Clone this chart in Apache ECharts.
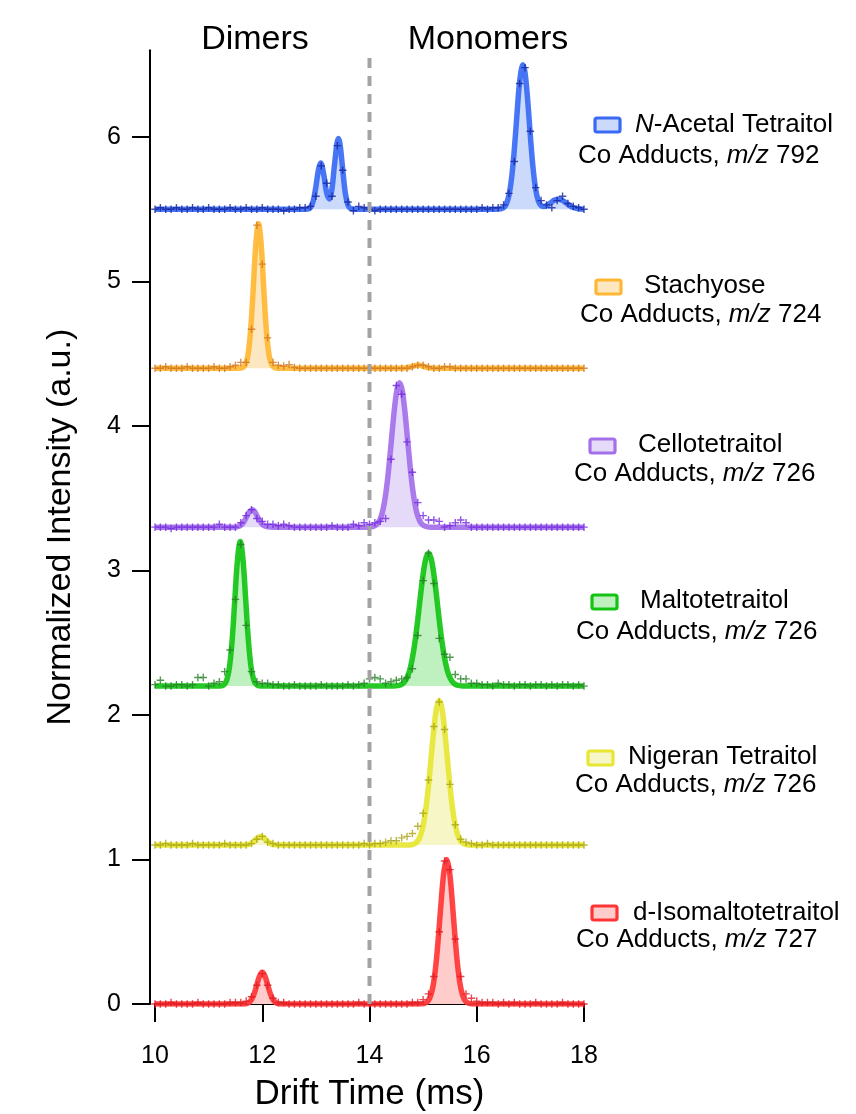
<!DOCTYPE html>
<html><head><meta charset="utf-8">
<script src="https://cdn.jsdelivr.net/npm/echarts@6/dist/echarts.min.js"></script>
<style>html,body{margin:0;padding:0;background:#fff}#c{width:856px;height:1114px}</style>
</head><body><div id="c"></div><script>
// ---------- DATA ----------
const driftTime = [10.0,10.1,10.2,10.3,10.4,10.5,10.6,10.7,10.8,10.9,
  11.0,11.1,11.2,11.3,11.4,11.5,11.6,11.7,11.8,11.9,
  12.0,12.1,12.2,12.3,12.4,12.5,12.6,12.7,12.8,12.9,
  13.0,13.1,13.2,13.3,13.4,13.5,13.6,13.7,13.8,13.9,
  14.0,14.1,14.2,14.3,14.4,14.5,14.6,14.7,14.8,14.9,
  15.0,15.1,15.2,15.3,15.4,15.5,15.6,15.7,15.8,15.9,
  16.0,16.1,16.2,16.3,16.4,16.5,16.6,16.7,16.8,16.9,
  17.0,17.1,17.2,17.3,17.4,17.5,17.6,17.7,17.8,17.9,18.0];

const seriesNames = ['N-Acetal Tetraitol','Stachyose','Cellotetraitol','Maltotetraitol','Nigeran Tetraitol','d-Isomaltotetraitol'];
const legendLabels = ['{i|N}-Acetal Tetraitol','Stachyose','Cellotetraitol','Maltotetraitol','Nigeran Tetraitol','d-Isomaltotetraitol'];
const mzValues = [792, 724, 726, 726, 726, 727];
const baselineOffsets = [5.5, 4.4, 3.3, 2.2, 1.1, 0];
const xTicks = [10, 12, 14, 16, 18];
const yTicks = [0, 1, 2, 3, 4, 5, 6];
const dividerTime = 14;
const groupLabels = ['Dimers', 'Monomers'];

// measured points (relative to each trace's baseline), one per driftTime
const blueMeasured = [0.00,0.01,0.00,0.00,0.01,0.00,0.00,0.01,0.00,0.00,
  0.01,0.00,0.00,0.00,0.01,0.00,0.00,0.01,0.00,0.00,
  0.01,0.00,0.00,0.00,-0.01,0.00,0.00,0.01,0.01,0.02,
  0.09,0.30,0.18,0.09,0.44,0.27,0.05,-0.01,0.02,0.01,
  0.00,-0.01,0.00,0.00,0.00,0.00,0.00,0.00,0.00,0.00,
  0.00,0.00,0.00,0.00,0.00,0.00,0.00,0.00,0.00,0.00,
  0.00,0.01,0.00,0.01,0.01,0.03,0.11,0.33,0.87,0.98,
  0.54,0.15,0.06,0.03,0.01,0.06,0.09,0.04,0.02,0.01,0.00];
const orangeMeasured = [0.00,0.00,0.01,0.00,0.00,0.00,0.01,0.00,0.00,0.00,
  0.00,0.01,0.00,0.00,0.01,0.02,0.04,0.04,0.27,0.99,
  0.72,0.21,0.04,0.02,0.015,0.025,0.005,0.00,0.00,0.00,
  0.00,0.00,0.00,0.00,0.00,0.00,0.00,0.00,0.00,0.00,
  0.00,0.00,0.00,0.00,0.00,0.00,0.00,0.00,0.01,0.02,
  0.02,0.01,0.00,0.00,0.01,0.01,0.00,0.00,0.00,0.00,
  0.00,0.00,0.00,0.00,0.00,0.00,0.00,0.00,0.00,0.00,
  0.00,0.00,0.00,0.00,0.00,0.00,0.00,0.00,0.00,0.00,0.00];
const purpleMeasured = [0.00,0.00,0.00,-0.01,0.00,0.00,0.00,0.00,0.00,0.00,
  0.00,0.00,0.02,0.00,0.00,0.00,0.03,0.08,0.12,0.06,
  0.04,0.02,0.02,0.01,0.02,0.01,0.00,0.00,0.00,0.00,
  0.00,0.00,0.00,0.01,0.00,0.00,0.00,0.02,0.01,0.03,
  0.02,0.03,0.04,0.06,0.47,0.98,0.92,0.59,0.38,0.17,
  0.08,0.05,0.05,0.04,0.00,0.01,0.03,0.05,0.03,0.00,
  0.00,0.00,0.00,0.00,0.00,0.00,0.00,0.00,0.00,0.00,
  0.00,0.00,0.00,0.00,0.00,0.00,0.00,0.00,0.00,0.00,0.00];
const greenMeasured = [0.01,0.04,0.00,0.00,0.01,0.01,0.00,0.01,0.06,0.06,
  0.00,0.02,0.03,0.10,0.25,0.60,0.98,0.42,0.10,0.03,
  0.02,0.02,0.01,0.01,0.00,0.00,0.01,0.00,0.00,0.00,
  0.00,0.01,0.00,0.00,0.00,0.00,0.01,0.00,0.01,0.02,
  0.05,0.06,0.05,0.02,0.03,0.04,0.05,0.06,0.12,0.35,
  0.73,0.92,0.71,0.33,0.22,0.20,0.08,0.05,0.05,0.02,
  0.02,0.01,0.01,0.00,0.02,0.01,0.01,0.00,0.01,0.01,
  0.00,0.01,0.01,0.00,0.01,0.00,0.01,0.01,0.00,0.01,0.00];
const yellowMeasured = [0.00,0.00,0.01,0.00,0.00,0.00,0.00,0.01,0.00,0.00,
  0.00,0.00,0.00,0.01,0.00,0.00,0.00,0.00,0.01,0.04,
  0.06,0.02,0.01,0.00,0.00,0.00,0.00,0.00,0.00,0.00,
  0.00,0.00,0.00,0.00,0.00,0.00,0.00,0.00,0.00,0.01,
  0.00,0.01,0.01,0.02,0.03,0.03,0.05,0.06,0.08,0.13,
  0.22,0.45,0.82,0.99,0.80,0.42,0.14,0.04,0.02,0.01,
  0.00,0.00,0.01,0.00,0.00,0.00,0.00,0.00,0.00,0.00,
  0.00,0.00,0.00,0.00,0.00,0.00,0.00,0.00,0.00,0.00,0.00];
const redMeasured = [0.00,0.00,0.00,0.01,0.00,0.00,0.00,0.00,0.01,0.00,
  0.00,0.00,0.00,0.00,0.01,0.01,0.01,0.02,0.05,0.13,
  0.21,0.13,0.04,0.01,0.01,0.00,0.00,0.00,0.00,0.00,
  0.00,0.00,0.00,0.00,0.00,0.00,0.00,0.00,0.01,0.00,
  0.00,0.00,0.00,0.00,0.00,0.00,0.00,0.00,0.01,0.01,
  0.03,0.07,0.19,0.50,0.99,0.93,0.45,0.19,0.07,0.04,
  0.02,0.01,0.01,0.01,0.00,0.01,0.00,0.01,0.00,0.00,
  0.00,0.01,0.00,0.00,0.00,0.00,0.01,0.00,0.00,0.00,0.00];

// fitted curves, [drift time, intensity relative to baseline]
const blueFit = [[10,0],[12.7,0],[12.85,0.002],[12.9,0.013],[12.95,0.056],[13,0.156],[13.05,0.277],[13.09,0.32],
  [13.15,0.233],[13.2,0.116],[13.25,0.071],[13.3,0.142],[13.35,0.318],[13.42,0.49],[13.45,0.452],[13.5,0.277],
  [13.55,0.109],[13.6,0.027],[13.65,0.004],[13.75,0],[16.35,0],[16.45,0.003],[16.5,0.011],[16.55,0.036],
  [16.6,0.096],[16.65,0.216],[16.7,0.411],[16.75,0.657],[16.8,0.882],[16.86,1.0],[16.9,0.946],[16.95,0.755],
  [17,0.506],[17.05,0.286],[17.1,0.135],[17.15,0.057],[17.2,0.025],[17.25,0.019],[17.3,0.025],[17.35,0.037],
  [17.4,0.051],[17.45,0.063],[17.52,0.07],[17.6,0.061],[17.65,0.048],[17.7,0.034],[17.8,0.012],[17.9,0.003],[18,0]];
const orangeFit = [[10,0],[11.55,0],[11.63,0.004],[11.68,0.021],[11.73,0.085],[11.78,0.249],[11.83,0.539],
  [11.88,0.857],[11.93,1],[11.98,0.857],[12.03,0.539],[12.08,0.249],[12.13,0.085],[12.18,0.021],[12.23,0.004],
  [12.3,0],[14.6,0],[14.7,0.003],[14.8,0.012],[14.85,0.018],[14.91,0.022],[14.97,0.018],[15.05,0.008],
  [15.15,0.001],[15.25,0],[18,0]];
const purpleFit = [[10,0],[11.45,0],[11.55,0.004],[11.6,0.013],[11.65,0.033],[11.7,0.066],[11.75,0.1],[11.81,0.12],
  [11.85,0.111],[11.9,0.08],[11.95,0.045],[12,0.02],[12.05,0.007],[12.1,0.002],[12.2,0],[13.95,0],[14.06,0.004],
  [14.11,0.011],[14.16,0.029],[14.21,0.066],[14.26,0.135],[14.31,0.249],[14.36,0.411],[14.41,0.607],[14.46,0.801],
  [14.51,0.946],[14.56,1],[14.61,0.946],[14.66,0.801],[14.71,0.607],[14.76,0.411],[14.81,0.249],[14.86,0.135],
  [14.91,0.066],[14.96,0.029],[15.01,0.011],[15.06,0.004],[15.15,0],[18,0]];
const greenFit = [[10,0],[11.15,0],[11.24,0.002],[11.29,0.011],[11.34,0.044],[11.39,0.135],[11.44,0.325],[11.49,0.607],
  [11.54,0.882],[11.59,1],[11.64,0.882],[11.69,0.607],[11.74,0.325],[11.79,0.135],[11.84,0.044],[11.89,0.011],
  [11.94,0.002],[12.03,0],[14.45,0],[14.55,0.005],[14.6,0.012],[14.65,0.028],[14.7,0.058],[14.75,0.11],[14.8,0.194],
  [14.85,0.312],[14.9,0.46],[14.95,0.624],[15,0.774],[15.05,0.881],[15.1,0.92],[15.15,0.881],[15.2,0.774],
  [15.25,0.624],[15.3,0.46],[15.35,0.312],[15.4,0.194],[15.45,0.11],[15.5,0.058],[15.55,0.028],[15.6,0.012],
  [15.65,0.005],[15.75,0],[18,0]];
const yellowFit = [[10,0],[11.65,0],[11.75,0.005],[11.8,0.014],[11.85,0.029],[11.9,0.047],[11.97,0.06],[12.02,0.053],
  [12.07,0.036],[12.12,0.02],[12.17,0.008],[12.22,0.003],[12.3,0],[14.7,0],[14.8,0.004],[14.85,0.011],[14.9,0.029],
  [14.95,0.066],[15,0.135],[15.05,0.249],[15.1,0.411],[15.15,0.607],[15.2,0.801],[15.25,0.946],[15.3,1],
  [15.35,0.946],[15.4,0.801],[15.45,0.607],[15.5,0.411],[15.55,0.249],[15.6,0.135],[15.65,0.066],[15.7,0.029],
  [15.75,0.011],[15.8,0.004],[15.9,0],[18,0]];
const redFit = [[10,0],[11.6,0],[11.7,0.002],[11.75,0.01],[11.8,0.03],[11.85,0.072],[11.9,0.134],[11.95,0.194],
  [12,0.22],[12.05,0.194],[12.1,0.134],[12.15,0.072],[12.2,0.03],[12.25,0.01],[12.3,0.002],[12.4,0],[14.9,0],
  [14.99,0.002],[15.04,0.006],[15.09,0.02],[15.14,0.056],[15.19,0.135],[15.24,0.278],[15.29,0.487],[15.34,0.726],
  [15.39,0.923],[15.44,1],[15.49,0.923],[15.54,0.726],[15.59,0.487],[15.64,0.278],[15.69,0.135],[15.74,0.056],
  [15.79,0.02],[15.84,0.006],[15.89,0.002],[15.95,0],[18,0]];

// ---------- STYLE ----------
const F = '"Liberation Sans", Arial, Helvetica, sans-serif';
const lineColors = ['#3a6af4', '#ffb733', '#a470ea', '#14c414', '#e6e633', '#ff3535'];
const fillColors = ['#cbd9fb', '#fde7c0', '#e6daf9', '#bff0bf', '#f6f6c6', '#ffcccc'];
const markColors = ['#16249e', '#cf7620', '#7328e0', '#267f26', '#aaa214', '#e01a24'];
const fits = [blueFit, orangeFit, purpleFit, greenFit, yellowFit, redFit];
const measured = [blueMeasured, orangeMeasured, purpleMeasured, greenMeasured, yellowMeasured, redMeasured];

// legend layout (pixels)
const legendPos = [
  {ix: 595, iy: 125, nx: 635, ny: 125, cx: 578, cy: 156},
  {ix: 596, iy: 287, nx: 644, ny: 286, cx: 580, cy: 315},
  {ix: 590, iy: 446, nx: 638, ny: 445, cx: 574, cy: 474},
  {ix: 592, iy: 602, nx: 640, ny: 601, cx: 576, cy: 632},
  {ix: 588, iy: 758, nx: 628, ny: 757, cx: 575, cy: 785},
  {ix: 592, iy: 913, nx: 633, ny: 913, cx: 576, cy: 940}
];

const series = [];
fits.forEach((fit, k) => {
  const off = baselineOffsets[k];
  series.push({
    name: seriesNames[k], type: 'line', smooth: 0.35, symbol: 'none',
    data: fit.map(p => [p[0], p[1] + off]),
    lineStyle: {color: lineColors[k], width: 5.5, opacity: 0.92},
    areaStyle: {color: fillColors[k], opacity: 1, origin: off},
    z: 2, silent: true
  });
});
measured.forEach((vals, k) => {
  const off = baselineOffsets[k];
  series.push({
    name: seriesNames[k] + ' data', type: 'scatter',
    symbol: 'path://M5,0L5,10M0,5L10,5', symbolSize: 7.5,
    data: vals.map((v, i) => [driftTime[i], v + off]),
    itemStyle: {color: 'rgba(0,0,0,0)', borderColor: markColors[k], borderWidth: 1.4},
    z: 3, silent: true
  });
});
series.push({
  name: 'divider', type: 'line', symbol: 'none', silent: true, z: 5,
  data: [[dividerTime, 0], [dividerTime, 6.57]],
  lineStyle: {color: '#a3a3a3', width: 4, type: [10, 8]}
});

const graphic = [
  {type: 'text', x: 255, y: 40, style: {text: groupLabels[0], fontSize: 34, fontFamily: F, fill: '#000', align: 'center', verticalAlign: 'middle'}},
  {type: 'text', x: 488, y: 40, style: {text: groupLabels[1], fontSize: 34, fontFamily: F, fill: '#000', align: 'center', verticalAlign: 'middle'}}
];
const LF = 26;
legendPos.forEach((p, k) => {
  graphic.push({type: 'rect', shape: {x: p.ix, y: p.iy - 7, width: 25, height: 14, r: 2},
    style: {fill: fillColors[k], stroke: lineColors[k], lineWidth: 3.2}});
  graphic.push({type: 'text', x: p.nx, y: p.ny, style: {
    text: legendLabels[k], fontSize: LF, fontFamily: F, fill: '#000', align: 'left', verticalAlign: 'middle',
    rich: {i: {fontStyle: 'italic', fontSize: LF, fontFamily: F, fill: '#000'}}}});
  graphic.push({type: 'text', x: p.cx, y: p.cy, style: {
    text: '{n|Co Adducts, }{i|m/z}{n| ' + mzValues[k] + '}', fontSize: LF, fontFamily: F, fill: '#000',
    align: 'left', verticalAlign: 'middle',
    rich: {n: {fontSize: LF, fontFamily: F, fill: '#000'},
           i: {fontStyle: 'italic', fontSize: LF, fontFamily: F, fill: '#000'}}}});
});

const chart = echarts.init(document.getElementById('c'), null, {renderer: 'canvas'});
chart.setOption({
  animation: false,
  backgroundColor: '#fff',
  grid: {left: 155, right: 272, top: 50.3, bottom: 110, outerBoundsMode: 'none'},
  xAxis: {
    type: 'value', min: 10, max: 18, interval: 2, offset: 6,
    axisLine: {lineStyle: {color: '#000', width: 2}},
    axisTick: {show: true, length: 18, lineStyle: {color: '#000', width: 2}, customValues: xTicks},
    axisLabel: {fontSize: 25, color: '#000', fontFamily: F, margin: 34, customValues: xTicks},
    splitLine: {show: false},
    name: 'Drift Time (ms)', nameLocation: 'middle', nameGap: 67,
    nameTextStyle: {fontSize: 35, color: '#000', fontFamily: F}
  },
  yAxis: {
    type: 'value', min: 0, max: 6.6, interval: 1, offset: 5,
    axisLine: {show: true, lineStyle: {color: '#000', width: 2}},
    axisTick: {show: true, length: 18, lineStyle: {color: '#000', width: 2}, customValues: yTicks},
    axisLabel: {fontSize: 25, color: '#000', fontFamily: F, margin: 29, customValues: yTicks},
    splitLine: {show: false},
    name: 'Normalized Intensity (a.u.)', nameLocation: 'middle', nameRotate: 90, nameGap: 72,
    nameTextStyle: {fontSize: 34, color: '#000', fontFamily: F}
  },
  series: series,
  graphic: graphic
});
</script></body></html>
